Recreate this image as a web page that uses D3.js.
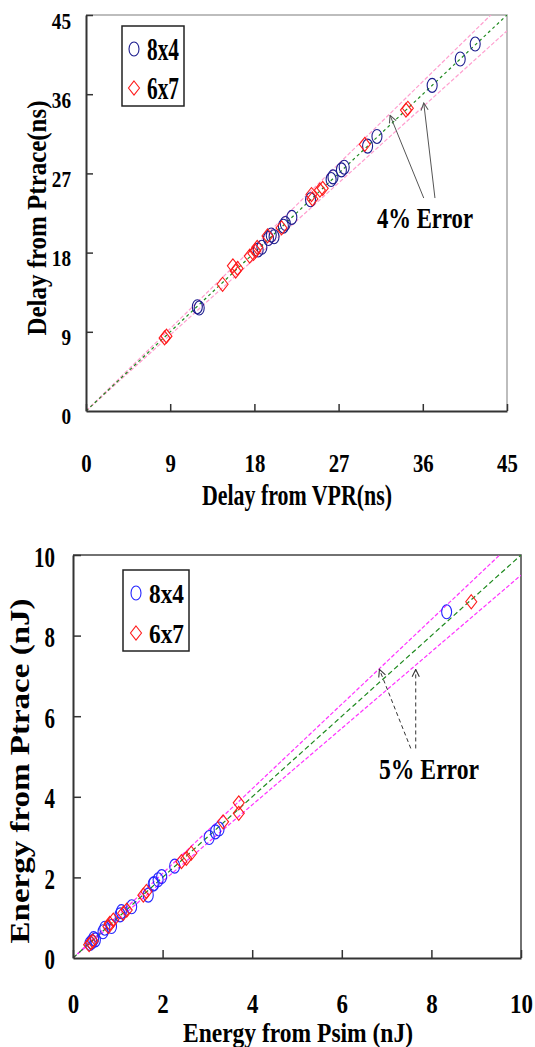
<!DOCTYPE html>
<html>
<head>
<meta charset="utf-8">
<script src="https://cdn.jsdelivr.net/npm/d3@7"></script>
<style>
  body { margin: 0; background: #fff; }
  svg { display: block; }
  text { font-family: "Liberation Serif", "Times New Roman", serif; font-weight: bold; fill: #000; }
</style>
</head>
<body>
<svg id="chart" width="535" height="1047" font-family="Liberation Serif, serif"></svg>
<script>
// ---- data ----
const seriesNames = ["8x4", "6x7"];

// delay panel (ns): [VPR, Ptrace]
const delayTicks = [0, 9, 18, 27, 36, 45];
const delay8x4 = [[11.9,11.85],[12.1,11.7],[18.4,18.3],[18.8,18.6],[19.5,19.6],[19.8,20.0],[20.1,19.8],
  [21.1,21.0],[21.3,21.3],[22.0,22.0],[24.0,24.0],[26.2,26.3],[26.4,26.6],[27.3,27.4],[27.6,27.7],
  [30.1,30.1],[31.1,31.2],[37.0,37.0],[40.0,40.0],[41.6,41.7]];
const delay6x7 = [[8.4,8.3],[8.6,8.5],[14.6,14.4],[15.7,16.5],[16.0,15.9],[16.2,16.2],[17.5,17.6],
  [17.9,17.9],[18.1,18.2],[18.3,18.6],[19.4,19.9],[20.9,20.8],[24.1,24.6],[24.2,24.1],[25.0,25.1],
  [25.3,25.3],[29.8,30.3],[34.2,34.2],[34.4,34.4]];
const delayError = 0.04;
// arrows: [tailX, tailY, tipX, tipY] in data units
const delayArrows = [[36.1,24.2,32.5,33.6],[37.3,24.2,36.1,35.0]];

// energy panel (nJ): [Psim, Ptrace]
const energyTicks = [0, 2, 4, 6, 8, 10];
const energy8x4 = [[0.38,0.36],[0.42,0.40],[0.46,0.48],[0.50,0.45],[0.67,0.65],[0.71,0.74],[0.86,0.78],
  [1.05,1.07],[1.08,1.15],[1.31,1.27],[1.68,1.56],[1.79,1.83],[1.81,1.85],[1.90,1.94],[1.98,2.02],
  [2.27,2.28],[3.04,2.99],[3.18,3.13],[3.26,3.20],[8.34,8.59]];
const energy6x7 = [[0.36,0.33],[0.40,0.38],[0.44,0.42],[0.79,0.78],[0.82,0.86],[0.90,0.94],[1.12,1.11],
  [1.20,1.19],[1.57,1.56],[1.64,1.65],[2.42,2.39],[2.53,2.47],[2.64,2.60],[3.35,3.38],[3.70,3.85],
  [3.70,3.59],[8.89,8.84]];
const energyError = 0.05;
const energyArrows = [[7.54,5.20,6.84,7.16],[7.65,5.20,7.65,7.16]];

const svg = d3.select("#chart");

const defs = svg.append("defs");
function arrowMarker(id, color) {
  defs.append("marker").attr("id", id)
    .attr("viewBox", "0 0 10 10").attr("refX", 9).attr("refY", 5)
    .attr("markerWidth", 9).attr("markerHeight", 9)
    .attr("markerUnits", "userSpaceOnUse").attr("orient", "auto")
    .append("path").attr("d", "M1,1 L9,5 L1,9")
    .attr("fill", "none").attr("stroke", color).attr("stroke-width", 1.2);
}
arrowMarker("arrTop", "#555");
arrowMarker("arrBot", "#333");

const diamond = "M0,-7 L5.5,0 L0,7 L-5.5,0 Z";

function addText(g, str, x, y, size, len, anchor) {
  return g.append("text").attr("x", x).attr("y", y)
    .attr("font-family", "Liberation Serif, serif")
    .attr("font-size", size).attr("text-anchor", anchor || "start")
    .attr("textLength", len).attr("lengthAdjust", "spacingAndGlyphs")
    .text(str);
}

function drawPanel(c) {
  const g = svg.append("g");
  const x = d3.scaleLinear().domain([0, c.max]).range([c.left, c.right]);
  const y = d3.scaleLinear().domain([0, c.max]).range([c.bottom, c.top]);

  const clipId = c.id + "clip";
  defs.append("clipPath").attr("id", clipId).append("rect")
    .attr("x", c.left).attr("y", c.top)
    .attr("width", c.right - c.left).attr("height", c.bottom - c.top);

  // frame (top, right)
  g.append("path")
    .attr("d", `M${c.left},${c.top}H${c.right}V${c.bottom}`)
    .attr("fill", "none").attr("stroke", c.frameColor).attr("stroke-width", 1.5);

  // reference lines
  const line = d3.line().x(d => x(d[0])).y(d => y(d[1]));
  const lines = g.append("g").attr("clip-path", `url(#${clipId})`);
  [1 + c.err, 1 - c.err].forEach(k => {
    lines.append("path").datum([[0, 0], [c.max, c.max * k]])
      .attr("d", line).attr("fill", "none")
      .attr("stroke", c.errColor).attr("stroke-width", 1.2).attr("stroke-dasharray", "4,2");
  });
  lines.append("path").datum([[0, 0], [c.max, c.max]])
    .attr("d", line).attr("fill", "none")
    .attr("stroke", "#1f8a1f").attr("stroke-width", 1.2).attr("stroke-dasharray", c.idDash);

  // points
  const pts = g.append("g").attr("clip-path", `url(#${clipId})`);
  pts.selectAll("ellipse").data(c.s1).join("ellipse")
    .attr("cx", d => x(d[0])).attr("cy", d => y(d[1]))
    .attr("rx", 5).attr("ry", 7)
    .attr("fill", "none").attr("stroke", c.blue).attr("stroke-width", 1.1);
  pts.selectAll("path.dia").data(c.s2).join("path").attr("class", "dia")
    .attr("transform", d => `translate(${x(d[0])},${y(d[1])})`)
    .attr("d", diamond)
    .attr("fill", "none").attr("stroke", "#ff1a1a").attr("stroke-width", 1.1);

  // axes
  const xAxis = d3.axisBottom(x).tickValues(c.ticks).tickSizeInner(-c.tickLen).tickSizeOuter(0);
  const yAxis = d3.axisLeft(y).tickValues(c.ticks.slice(1)).tickSizeInner(-c.tickLen).tickSizeOuter(0);

  g.append("g").attr("transform", `translate(0,${c.bottom})`).call(xAxis)
    .attr("font-family", "Liberation Serif, serif")
    .call(a => a.select(".domain").attr("stroke", "#333").attr("stroke-width", 2))
    .call(a => a.selectAll(".tick line").attr("stroke", "#333").attr("stroke-width", 1.5))
    .call(a => a.selectAll(".tick text")
      .attr("y", c.xLabelY).attr("dy", null).attr("fill", "#000")
      .attr("font-size", c.xFont).attr("transform", `scale(${c.xScale},1)`));

  g.append("g").attr("transform", `translate(${c.left},0)`).call(yAxis)
    .attr("font-family", "Liberation Serif, serif")
    .call(a => a.select(".domain").attr("stroke", "#333").attr("stroke-width", 2))
    .call(a => a.selectAll(".tick line").attr("stroke", "#333").attr("stroke-width", 1.5))
    .call(a => a.selectAll(".tick text")
      .attr("x", -c.yGap / c.yScale).attr("y", c.yShift).attr("dy", null).attr("fill", "#000")
      .attr("font-size", c.yFont).attr("transform", `scale(${c.yScale},1)`));

  // y label "0" sits at the origin too
  g.append("text").attr("x", c.left - c.yGap).attr("y", c.bottom + c.yShift)
    .attr("text-anchor", "end").attr("font-size", c.yFont)
    .attr("transform", `translate(${(c.left - c.yGap) * (1 - c.yScale)},0) scale(${c.yScale},1)`)
    .text("0");

  // titles
  addText(g, c.xTitle, c.xTitlePos[0], c.xTitlePos[1], c.titleFont, c.xTitleLen, "middle");
  g.append("text")
    .attr("transform", `translate(${c.yTitlePos[0]},${c.yTitlePos[1]}) rotate(-90)`)
    .attr("font-size", c.yTitleFont).attr("text-anchor", "middle")
    .attr("textLength", c.yTitleLen).attr("lengthAdjust", "spacingAndGlyphs")
    .text(c.yTitle);

  // legend
  const L = c.legend;
  g.append("rect").attr("x", L.x).attr("y", L.y).attr("width", L.w).attr("height", L.h)
    .attr("fill", "#fff").attr("stroke", "#222").attr("stroke-width", 1.5);
  g.append("ellipse").attr("cx", L.mx).attr("cy", L.rows[0] - L.off)
    .attr("rx", 5).attr("ry", 7).attr("fill", "none").attr("stroke", c.blue).attr("stroke-width", 1.1);
  g.append("path").attr("transform", `translate(${L.mx},${L.rows[1] - L.off})`).attr("d", diamond)
    .attr("fill", "none").attr("stroke", "#ff1a1a").attr("stroke-width", 1.1);
  seriesNames.forEach((s, i) => addText(g, s, L.tx, L.rows[i], L.font, L.len));

  // annotation
  c.arrows.forEach(a => {
    g.append("line")
      .attr("x1", x(a[0])).attr("y1", y(a[1])).attr("x2", x(a[2])).attr("y2", y(a[3]))
      .attr("stroke", c.arrowColor).attr("stroke-width", 1)
      .attr("stroke-dasharray", c.arrowDash).attr("marker-end", `url(#${c.arrowMarker})`);
  });
  addText(g, c.note, c.notePos[0], c.notePos[1], 30, c.noteLen, "middle");
}

drawPanel({
  id: "delay", max: 45, left: 86, right: 507, top: 15, bottom: 411,
  ticks: delayTicks, tickLen: 7, s1: delay8x4, s2: delay6x7, err: delayError,
  frameColor: "#a8a8a8", errColor: "#ff9fcf", idDash: "3,3", blue: "#1c1c8e",
  xLabelY: 61, xFont: 26, xScale: 0.8,
  yGap: 15, yShift: 13, yFont: 24, yScale: 0.8,
  xTitle: "Delay from VPR(ns)", xTitlePos: [297, 505], titleFont: 30, xTitleLen: 190,
  yTitle: "Delay from Ptrace(ns)", yTitlePos: [46, 218], yTitleFont: 27, yTitleLen: 235,
  legend: { x: 122, y: 26, w: 62, h: 80, mx: 134, tx: 147, rows: [60, 99], off: 11, font: 32, len: 32 },
  arrows: delayArrows, arrowColor: "#555", arrowDash: null, arrowMarker: "arrTop",
  note: "4% Error", notePos: [425, 228], noteLen: 96
});

drawPanel({
  id: "energy", max: 10, left: 73, right: 521, top: 555, bottom: 958,
  ticks: energyTicks, tickLen: 8, s1: energy8x4, s2: energy6x7, err: energyError,
  frameColor: "#444", errColor: "#ff33ff", idDash: "5,3", blue: "#2525ff",
  xLabelY: 55, xFont: 27, xScale: 0.85,
  yGap: 18, yShift: 11, yFont: 30, yScale: 0.7,
  xTitle: "Energy from Psim (nJ)", xTitlePos: [298, 1042], titleFont: 28, xTitleLen: 230,
  yTitle: "Energy from Ptrace (nJ)", yTitlePos: [29, 771], yTitleFont: 28, yTitleLen: 345,
  legend: { x: 123, y: 570, w: 66, h: 81, mx: 136, tx: 149, rows: [603, 643], off: 10, font: 28, len: 35 },
  arrows: energyArrows, arrowColor: "#333", arrowDash: "4,3", arrowMarker: "arrBot",
  note: "5% Error", notePos: [429, 779], noteLen: 100
});
</script>
</body>
</html>
